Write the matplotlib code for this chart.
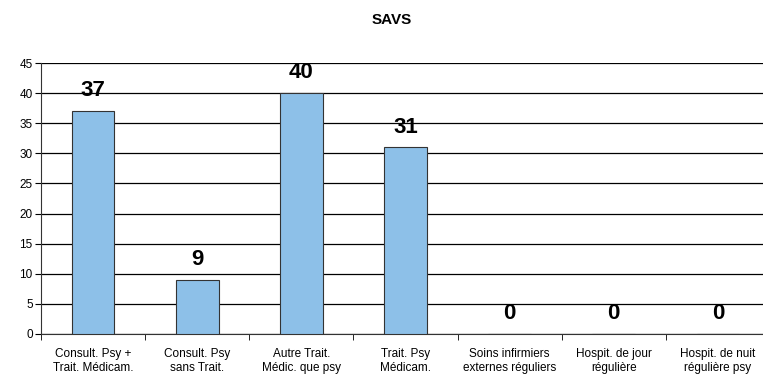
import numpy as np
import matplotlib

matplotlib.use('Agg')
import matplotlib.pyplot as plt

categories = [
    "Consult. Psy +\nTrait. Médicam.",
    "Consult. Psy\nsans Trait.",
    "Autre Trait.\nMédic. que psy",
    "Trait. Psy\nMédicam.",
    "Soins infirmiers\nexternes réguliers",
    "Hospit. de jour\nrégulière",
    "Hospit. de nuit\nrégulière psy",
]
values = [37, 9, 40, 31, 0, 0, 0]
y_ticks = [0, 5, 10, 15, 20, 25, 30, 35, 40, 45]

plt.rcParams['font.family'] = ['Liberation Sans', 'DejaVu Sans']

fig = plt.figure(figsize=(7.63, 3.79), dpi=100)
ax = fig.add_axes([41 / 763, 1 - 334 / 379, 729 / 763, 271 / 379])

x = np.arange(len(categories))
ax.bar(x, values, width=0.41, color='#8DC0E8', edgecolor='#333333', linewidth=0.8, zorder=3)

for xi, v in zip(x, values):
    ax.annotate(str(v), (xi, v), xytext=(0, 7), textcoords='offset points',
                ha='center', va='bottom', fontsize=16, fontweight='bold')

ax.set_xlim(-0.5, len(categories) - 0.5)
ax.set_ylim(0, 45)
ax.set_yticks(y_ticks)
ax.yaxis.grid(True, color='#000000', linewidth=0.9, zorder=0)
ax.tick_params(axis='y', labelsize=8.5, length=4, direction='out', pad=2)

# category labels centred, ticks on category boundaries
ax.set_xticks(x)
ax.set_xticklabels(categories, fontsize=8.5)
ax.tick_params(axis='x', which='major', length=0, pad=10)
ax.set_xticks(np.arange(len(categories) + 1) - 0.5, minor=True)
ax.tick_params(axis='x', which='minor', length=4, direction='out')

for side in ['top', 'right']:
    ax.spines[side].set_visible(False)
ax.spines['left'].set_color('#333333')
ax.spines['bottom'].set_color('#333333')

fig.text(392 / 763, 1 - 20 / 379, 'SAVS', ha='center', va='center',
         fontsize=11, fontweight='bold')

fig.savefig('out.png', dpi=100)
plt.close(fig)
